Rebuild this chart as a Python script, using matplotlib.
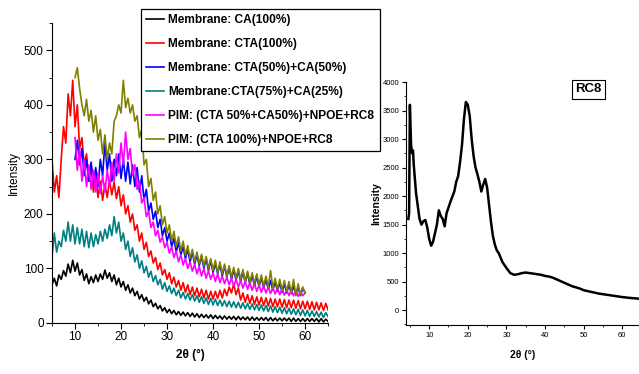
import numpy as np
import matplotlib
matplotlib.use("Agg")
import matplotlib.pyplot as plt
from matplotlib.ticker import MultipleLocator

# XRD patterns, 0.5 deg steps
ca100 = [70, 82, 68, 88, 80, 96, 86, 108, 92, 115,
         95, 110, 88, 98, 78, 90, 72, 85, 74, 88,
         76, 90, 80, 97, 82, 92, 76, 88, 70, 82,
         66, 76, 60, 70, 55, 64, 50, 58, 44, 52,
         40, 47, 35, 42, 30, 36, 26, 32, 22, 28,
         19, 25, 17, 23, 15, 21, 14, 20, 13, 19,
         12, 18, 11, 17, 10, 16, 10, 15, 9, 15,
         8, 14, 8, 13, 7, 13, 7, 12, 7, 12,
         6, 12, 6, 11, 6, 11, 5, 11, 5, 10,
         5, 10, 5, 10, 4, 10, 4, 9, 4, 9,
         4, 9, 4, 9, 3, 9, 3, 8, 3, 8,
         3, 8, 3, 8, 3, 8, 2, 8, 2, 7,
         3]
cta100 = [300, 240, 270, 230, 300, 360, 330, 420, 380, 445,
          360, 400, 320, 340, 290, 310, 260, 290, 240, 270,
          230, 260, 225, 255, 230, 262, 235, 258, 228, 250,
          215, 235, 200, 215, 185, 200, 170, 180, 150, 165,
          135, 148, 122, 132, 110, 120, 98, 110, 88, 98,
          80, 92, 72, 84, 66, 78, 60, 74, 56, 70,
          52, 66, 50, 64, 48, 62, 46, 60, 44, 58,
          44, 58, 45, 60, 46, 62, 50, 66, 55, 72,
          52, 64, 42, 55, 38, 52, 36, 50, 34, 48,
          33, 47, 32, 46, 31, 45, 30, 44, 30, 44,
          29, 43, 28, 42, 28, 42, 27, 41, 26, 40,
          26, 40, 25, 39, 24, 38, 24, 37, 23, 36,
          24]
cta75_ca25 = [120, 165, 130, 150, 140, 170, 150, 185, 150, 180,
              145, 175, 145, 172, 140, 168, 138, 165, 140, 162,
              145, 168, 150, 172, 155, 180, 160, 195, 165, 185,
              150, 165, 135, 150, 122, 138, 112, 125, 100, 114,
              92, 104, 84, 95, 76, 87, 70, 80, 62, 74,
              58, 68, 54, 64, 50, 60, 46, 56, 44, 54,
              42, 52, 40, 50, 38, 48, 36, 46, 34, 45,
              33, 44, 32, 42, 31, 41, 30, 40, 29, 39,
              28, 38, 27, 37, 26, 36, 25, 35, 24, 34,
              23, 33, 22, 32, 21, 31, 20, 30, 19, 29,
              18, 28, 17, 27, 16, 26, 15, 25, 14, 24,
              13, 23, 12, 22, 12, 21, 11, 20, 10, 19,
              12]
cta50_ca50 = [300, 335, 290, 320, 270, 300, 260, 295, 255, 285,
              250, 300, 270, 330, 280, 310, 260, 300, 270, 310,
              265, 300, 260, 295, 255, 290, 250, 285, 240, 270,
              225, 245, 205, 220, 190, 205, 175, 190, 160, 175,
              150, 165, 140, 155, 130, 148, 125, 140, 118, 135,
              112, 130, 108, 125, 105, 122, 100, 118, 96, 115,
              92, 110, 90, 108, 86, 105, 84, 102, 80, 98,
              78, 96, 76, 94, 74, 92, 70, 88, 68, 86,
              66, 84, 64, 80, 62, 78, 60, 76, 58, 74,
              56, 72, 55, 70, 54, 68, 52, 66, 50, 64,
              56]
pim_cta50 = [340, 280, 320, 260, 300, 250, 290, 245, 280, 240,
             275, 238, 270, 240, 280, 250, 295, 260, 310, 275,
             330, 290, 350, 300, 320, 270, 290, 245, 260, 220,
             230, 195, 205, 175, 185, 160, 170, 148, 158, 138,
             148, 128, 140, 120, 132, 112, 125, 106, 118, 100,
             112, 95, 108, 90, 104, 86, 100, 82, 96, 80,
             92, 76, 90, 74, 86, 72, 84, 70, 82, 68,
             80, 66, 78, 64, 76, 62, 74, 60, 72, 58,
             70, 56, 68, 55, 66, 54, 65, 53, 64, 52,
             62, 51, 61, 50, 60, 50, 60, 49, 58, 50,
             55]
pim_cta100 = [450, 468, 430, 400, 380, 410, 370, 390, 350, 380,
              335, 355, 310, 345, 300, 330, 310, 370, 380, 400,
              385, 445, 395, 412, 385, 400, 370, 380, 340, 355,
              290, 300, 250, 265, 225, 240, 200, 215, 180, 195,
              165, 180, 150, 168, 140, 158, 132, 150, 124, 142,
              118, 135, 112, 130, 108, 126, 104, 122, 100, 118,
              96, 115, 92, 112, 90, 108, 86, 105, 84, 102,
              82, 100, 80, 98, 76, 95, 74, 92, 72, 90,
              70, 88, 68, 86, 66, 96, 64, 82, 62, 80,
              60, 78, 58, 76, 56, 80, 50, 72, 52, 66,
              54]

labels = ["Membrane: CA(100%)", "Membrane: CTA(100%)",
          "Membrane: CTA(50%)+CA(50%)", "Membrane:CTA(75%)+CA(25%)",
          "PIM: (CTA 50%+CA50%)+NPOE+RC8", "PIM: (CTA 100%)+NPOE+RC8"]
series = [ca100, cta100, cta50_ca50, cta75_ca25, pim_cta50, pim_cta100]
starts = [5, 5, 10, 5, 10, 10]
colors = ["black", "#ff0000", "#0000ff", "#008080", "#ff00ff", "#808000"]

rc8_angle = [4.6, 4.8, 5.0, 5.3, 5.6, 5.8, 6.0, 6.3, 6.6,
             7.0, 7.5, 8.0, 8.5, 9.0, 9.5, 10.0, 10.5, 11.0, 11.5,
             12.0, 12.5, 13.0, 13.5, 14.0, 14.5, 15.0, 15.5, 16.0, 16.5,
             17.0, 17.5, 18.0, 18.5, 19.0, 19.5, 20.0, 20.5, 21.0, 21.5,
             22.0, 22.5, 23.0, 23.5, 24.0, 24.5, 25.0, 25.5, 26.0, 26.5,
             27.0, 27.5, 28.0, 28.5, 29.0, 29.5, 30.0,
             31, 32, 33, 34, 35, 36, 37, 38, 39, 40,
             41, 42, 43, 44, 45, 46, 47, 48, 49, 50,
             52, 54, 56, 58, 60, 62, 64.5]
rc8_intensity = [1600, 1700, 3600, 2900, 2750, 2800, 2550, 2300, 2050,
                 1850, 1600, 1500, 1560, 1580, 1450, 1250, 1130, 1200, 1350,
                 1500, 1750, 1650, 1600, 1470, 1700, 1800, 1900, 1990, 2080,
                 2250, 2350, 2600, 2900, 3350, 3650, 3600, 3400, 3000, 2700,
                 2500, 2380, 2250, 2080, 2200, 2300, 2150, 1850, 1550, 1300,
                 1150, 1050, 1000, 920, 840, 790, 740,
                 650, 620, 630, 650, 660, 650, 640, 630, 620, 600,
                 590, 570, 540, 510, 480, 450, 420, 400, 380, 350,
                 320, 290, 270, 250, 230, 215, 200]

plt.rcParams["font.family"] = ["Liberation Sans", "DejaVu Sans"]

fig = plt.figure(figsize=(6.39, 3.74), dpi=100)
ax1 = fig.add_axes([0.0814, 0.1364, 0.432, 0.802])
ax2 = fig.add_axes([0.6354, 0.131, 0.3656, 0.6497])

handles = []
for vals, x0, c, lab in zip(series, starts, colors, labels):
    x = x0 + 0.5 * np.arange(len(vals))
    h, = ax1.plot(x, vals, color=c, lw=1.2, label=lab)
    handles.append(h)

ax1.set_xlim(5, 65)
ax1.set_ylim(0, 550)
ax1.xaxis.set_minor_locator(MultipleLocator(5))
ax1.yaxis.set_minor_locator(MultipleLocator(50))
ax1.set_xticks([10, 20, 30, 40, 50, 60])
ax1.set_yticks([0, 100, 200, 300, 400, 500])
ax1.tick_params(labelsize=8.5, length=4, direction="out", pad=2)
ax1.tick_params(which="minor", length=2)
ax1.set_ylabel("Intensity", fontsize=8.5, labelpad=3)
ax1.set_xlabel("2θ (°)", fontsize=8.5, fontweight="bold", labelpad=4)

ax2.plot(rc8_angle, rc8_intensity, color="black", lw=1.8)
ax2.set_xlim(4, 64.5)
ax2.set_ylim(-260, 4000)
ax2.xaxis.set_minor_locator(MultipleLocator(5))
ax2.yaxis.set_minor_locator(MultipleLocator(250))
ax2.set_xticks([10, 20, 30, 40, 50, 60])
ax2.set_yticks(range(0, 4001, 500))
ax2.tick_params(labelsize=5.5, length=3, direction="out", pad=2)
ax2.tick_params(which="minor", length=1.5)
ax2.set_ylabel("Intensity", fontsize=7.5, fontweight="bold", labelpad=1)
ax2.set_xlabel("2θ (°)", fontsize=7.5, fontweight="bold", labelpad=8)
ax2.text(0.78, 0.97, "RC8", transform=ax2.transAxes, fontsize=9.5, fontweight="bold",
         ha="center", va="center",
         bbox=dict(boxstyle="square,pad=0.25", fc="white", ec="black", lw=0.8))

for ax in (ax1, ax2):
    ax.spines["top"].set_visible(False)
    ax.spines["right"].set_visible(False)

leg = fig.legend(handles=handles, loc="upper left", bbox_to_anchor=(0.2207, 0.976),
                 prop=dict(weight="bold", size=8.6), frameon=True,
                 fancybox=False, edgecolor="black", framealpha=1, handlelength=1.5,
                 handletextpad=0.35, labelspacing=1.0, borderpad=0.45, borderaxespad=0)
leg.get_frame().set_linewidth(0.9)

fig.savefig("out.png", dpi=100)
